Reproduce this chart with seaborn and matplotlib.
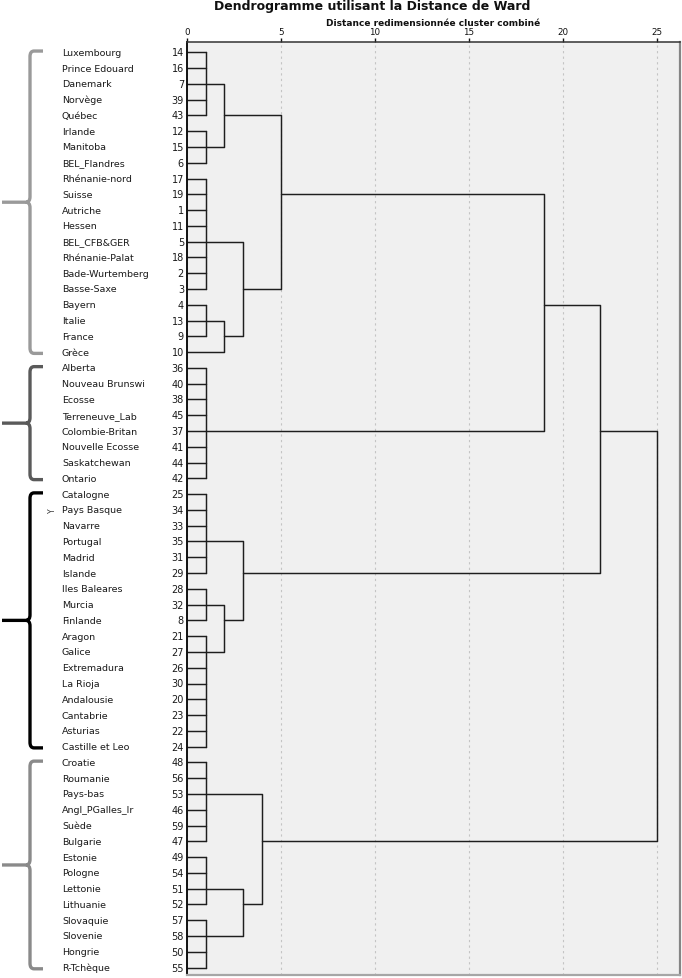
import math
import numpy as np
import pandas as pd
import matplotlib
matplotlib.use("Agg")
import matplotlib.pyplot as plt
from matplotlib.path import Path
from matplotlib.patches import PathPatch
import seaborn as sns

# ---------------- data ----------------
region_names = [
    "Luxembourg", "Prince Edouard", "Danemark", "Norvège", "Québec", "Irlande",
    "Manitoba", "BEL_Flandres", "Rhénanie-nord", "Suisse", "Autriche", "Hessen",
    "BEL_CFB&GER", "Rhénanie-Palat", "Bade-Wurtemberg", "Basse-Saxe", "Bayern",
    "Italie", "France", "Grèce", "Alberta", "Nouveau Brunswi", "Ecosse",
    "Terreneuve_Lab", "Colombie-Britan", "Nouvelle Ecosse", "Saskatchewan",
    "Ontario", "Catalogne", "Pays Basque", "Navarre", "Portugal", "Madrid",
    "Islande", "Iles Baleares", "Murcia", "Finlande", "Aragon", "Galice",
    "Extremadura", "La Rioja", "Andalousie", "Cantabrie", "Asturias",
    "Castille et Leo", "Croatie", "Roumanie", "Pays-bas", "Angl_PGalles_Ir",
    "Suède", "Bulgarie", "Estonie", "Pologne", "Lettonie", "Lithuanie",
    "Slovaquie", "Slovenie", "Hongrie", "R-Tchèque",
]
case_numbers = [
    14, 16, 7, 39, 43, 12, 15, 6, 17, 19, 1, 11, 5, 18, 2, 3, 4, 13, 9, 10,
    36, 40, 38, 45, 37, 41, 44, 42, 25, 34, 33, 35, 31, 29, 28, 32, 8, 21, 27,
    26, 30, 20, 23, 22, 24, 48, 56, 53, 46, 59, 47, 49, 54, 51, 52, 57, 58, 50, 55,
]

# groups of cases fused at the lowest rescaled distance
group_names = ["G1", "G2", "G3", "G4", "G5", "G6", "G7", "G8", "G9", "G10", "G11"]
group_members = [
    [14, 16, 7, 39, 43], [12, 15, 6], [17, 19, 1, 11, 5, 18, 2, 3], [4, 13, 9],
    [36, 40, 38, 45, 37, 41, 44, 42], [25, 34, 33, 35, 31, 29], [28, 32, 8],
    [21, 27, 26, 30, 20, 23, 22, 24], [48, 56, 53, 46, 59, 47], [49, 54, 51, 52],
    [57, 58, 50, 55],
]
group_lead_case = [7, 15, 5, 13, 37, 35, 32, 27, 53, 51, 58]
group_heights = [1, 1, 1, 1, 1, 1, 1, 1, 1, 1, 1]

# successive fusions (children may be groups, fusions or single cases)
merge_names = ["M1", "M2", "M3", "M4", "M5", "M6", "M7", "M8", "M9", "M10", "M11"]
merge_left = ["G1", "G4", "G3", "M1", "M4", "G7", "G6", "M5", "G10", "G9", "M8"]
merge_right = ["G2", 10, "M2", "M3", "G5", "G8", "M6", "M7", "G11", "M9", "M10"]
merge_heights = [2, 2, 3, 5, 19, 2, 3, 22, 3, 4, 25]

# brackets drawn on the left (first and last case of each bracket)
bracket_first = [14, 36, 25, 48]
bracket_last = [10, 42, 24, 55]

title = "Dendrogramme utilisant la Distance de Ward"
subtitle = "Distance redimensionnée cluster combiné"
x_ticks = [0, 5, 10, 15, 20, 25]

# ---------------- build segments ----------------
row_of = {c: i for i, c in enumerate(case_numbers)}
nodes = {}
segs = []
seg_id = 0


def add_seg(xs, ys):
    global seg_id
    for x, y in zip(xs, ys):
        segs.append({"x": x, "y": y, "seg": seg_id})
    seg_id += 1


for name, members, lead, h in zip(group_names, group_members,
                                   group_lead_case, group_heights):
    rows = [row_of[c] for c in members]
    for r in rows:
        add_seg([0, h], [r, r])
    add_seg([h, h], [min(rows), max(rows)])
    nodes[name] = (h, row_of[lead])


def node_info(key):
    if isinstance(key, str):
        return nodes[key]
    return (0, row_of[key])


for name, a, b, h in zip(merge_names, merge_left, merge_right, merge_heights):
    ha, ya = node_info(a)
    hb, yb = node_info(b)
    add_seg([ha, h, h, hb], [ya, ya, yb, yb])
    nodes[name] = (h, math.floor((ya + yb) / 2))

df = pd.DataFrame(segs)

# ---------------- figure ----------------
sns.set_theme(style="white")
plt.rcParams["font.family"] = ["DejaVu Sans"]

W, H = 682, 979
fig = plt.figure(figsize=(W / 100, H / 100), dpi=100)
fig.patch.set_facecolor("white")

ax_left_px = 186.7
ax_right_px = 680.0
ax_top_px = 43.3
ax_bot_px = 976.0
row0_px = 53.3
row_step = 15.78
px_per_unit = 18.8

ax = fig.add_axes([ax_left_px / W, 1 - ax_bot_px / H,
                   (ax_right_px - ax_left_px) / W, (ax_bot_px - ax_top_px) / H])
ax.set_facecolor("#f0f0f0")

sns.lineplot(data=df, x="x", y="y", units="seg", estimator=None, sort=False,
             color="#1e1e1e", linewidth=1.05, ax=ax, legend=False)

ax.set_xlim(0, (ax_right_px - ax_left_px) / px_per_unit)
ax.set_ylim((ax_bot_px - row0_px) / row_step, (ax_top_px - row0_px) / row_step)
ax.set_xticks(x_ticks)
ax.set_xticklabels([str(t) for t in x_ticks])
ax.set_yticks([])
ax.set_xlabel("")
ax.set_ylabel("")
ax.xaxis.tick_top()
ax.tick_params(axis="x", top=True, labeltop=True, bottom=False, labelbottom=False,
               length=3.2, width=1.0, pad=1.5, labelsize=6.3, colors="#111111",
               direction="out")
ax.grid(axis="x", color="#c4c4c4", linestyle=(0, (2, 3)), linewidth=0.8)
ax.grid(axis="y", visible=False)
ax.set_axisbelow(True)

ax.spines["left"].set_color("#111111")
ax.spines["left"].set_linewidth(1.4)
ax.spines["top"].set_color("#333333")
ax.spines["top"].set_linewidth(1.1)
ax.spines["right"].set_color("#858585")
ax.spines["right"].set_linewidth(1.6)
ax.spines["bottom"].set_color("#a6a6a6")
ax.spines["bottom"].set_linewidth(1.6)

# left panel for labels and brackets
axl = fig.add_axes([0, 1 - ax_bot_px / H, ax_left_px / W,
                    (ax_bot_px - ax_top_px) / H], sharey=ax)
axl.set_xlim(0, ax_left_px)
axl.axis("off")

for i, (nm, cn) in enumerate(zip(region_names, case_numbers)):
    axl.text(62, i, nm, ha="left", va="center", fontsize=6.8, color="#1a1a1a")
    axl.text(184, i, str(cn), ha="right", va="center", fontsize=7.0, color="#1a1a1a")

axl.text(52, row_of[34], "Y", rotation=90, ha="center", va="center",
         fontsize=5.5, color="#333333")

bracket_colors = ["#9a9a9a", "#5a5a5a", "#000000", "#8a8a8a"]
for first, last, col in zip(bracket_first, bracket_last, bracket_colors):
    r0 = row_of[first] - 0.08
    r1 = row_of[last] + 0.08
    rm = (row_of[first] + row_of[last]) / 2
    verts = [
        (43, r0), (34, r0), (30, r0), (30, r0 + 0.35),
        (30, rm - 0.35), (30, rm), (26, rm), (2, rm),
        (26, rm), (30, rm), (30, rm + 0.35),
        (30, r1 - 0.35), (30, r1), (34, r1), (43, r1),
    ]
    codes = [
        Path.MOVETO, Path.LINETO, Path.CURVE3, Path.CURVE3,
        Path.LINETO, Path.CURVE3, Path.CURVE3, Path.LINETO,
        Path.MOVETO, Path.CURVE3, Path.CURVE3,
        Path.LINETO, Path.CURVE3, Path.CURVE3, Path.LINETO,
    ]
    axl.add_patch(PathPatch(Path(verts, codes), facecolor="none", edgecolor=col,
                            linewidth=2.4, capstyle="butt", joinstyle="round"))

fig.text(372 / W, 1 - 6.5 / H, title, ha="center", va="center",
         fontsize=9.0, fontweight="bold", color="#111111")
fig.text(433 / W, 1 - 24 / H, subtitle, ha="center", va="center",
         fontsize=6.5, fontweight="bold", color="#111111")

fig.savefig("out.png", dpi=100, facecolor="white")
